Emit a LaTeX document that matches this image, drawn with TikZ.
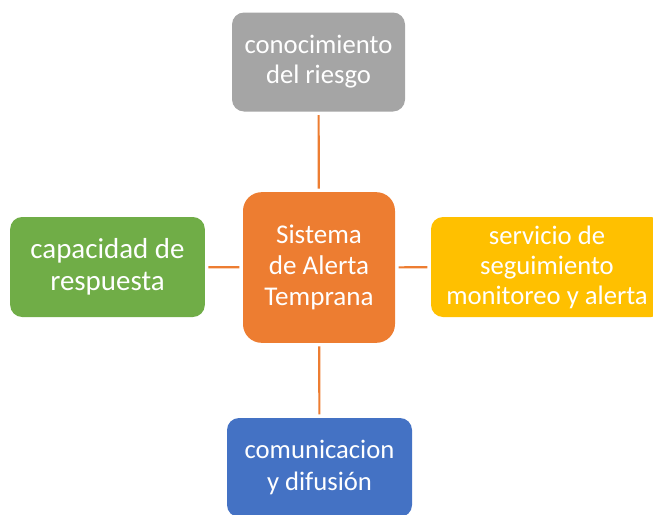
\documentclass[tikz,border=0pt]{standalone}
\usepackage{fontspec}
\setmainfont{Carlito}
\definecolor{sgris}{HTML}{A5A5A5}
\definecolor{sverde}{HTML}{70AD47}
\definecolor{samarillo}{HTML}{FFC000}
\definecolor{sazul}{HTML}{4472C4}
\definecolor{snaranja}{HTML}{ED7D31}
\tikzset{
  caja/.style={rounded corners=9pt, text=white, align=center, inner sep=0pt,
    font=\fontsize{20}{22.5}\selectfont},
  enlace/.style={draw=snaranja, line width=1.6pt, shorten <=2.5pt, shorten >=2.5pt}
}
\begin{document}
\begin{tikzpicture}[x=0.75pt, y=-0.75pt, line join=round]
  \useasboundingbox (0,0) rectangle (653,514);
  \clip (0,0) rectangle (653,514);
  % nodos
  \node[caja, fill=snaranja, minimum width=114pt, minimum height=113pt,
        rounded corners=14pt, font=\fontsize{20.3}{23.3}\selectfont]
        (sat) at (319,267.5) {Sistema\\de Alerta\\Temprana};
  \node[caja, fill=sgris, minimum width=129.75pt, minimum height=74.25pt]
        (riesgo) at (318.5,62) {conocimiento\\del riesgo};
  \node[caja, fill=sverde, minimum width=146pt, minimum height=75pt,
        font=\fontsize{21.7}{24}\selectfont]
        (respuesta) at (107.5,267) {capacidad de\\respuesta};
  \node[caja, fill=samarillo, minimum width=174pt, minimum height=75pt]
        (monitoreo) at (547,267) {servicio de\\seguimiento\\monitoreo y alerta};
  \node[caja, fill=sazul, minimum width=138.75pt, minimum height=74.25pt,
        font=\fontsize{20}{23.3}\selectfont]
        (difusion) at (319.5,467.5) {comunicacion\\y difusión};
  % enlaces
  \draw[enlace] (riesgo) -- (sat);
  \draw[enlace] (respuesta) -- (sat);
  \draw[enlace] (monitoreo) -- (sat);
  \draw[enlace] (difusion) -- (sat);
\end{tikzpicture}
\end{document}
